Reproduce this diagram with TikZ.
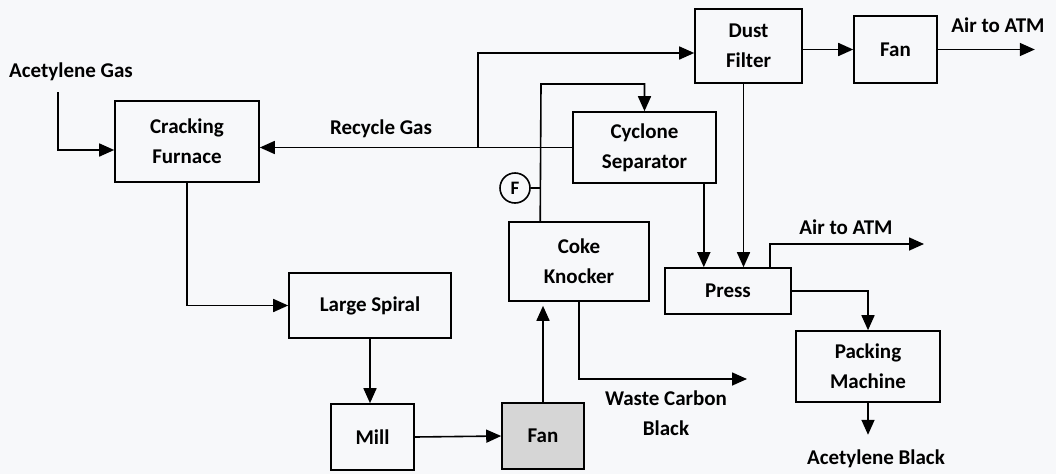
\documentclass[tikz,border=0pt]{standalone}
\usepackage{fontspec}
\setmainfont{Carlito}
\usetikzlibrary{arrows.meta,positioning}
\definecolor{paper}{RGB}{247,248,250}
\definecolor{fanfill}{RGB}{214,214,214}
\tikzset{
  unit/.style={draw,line width=1.6pt,align=center,inner sep=0pt,font=\fontsize{21}{30}\selectfont\bfseries},
  flow/.style={line width=1.6pt,-{Triangle[length=15pt,width=13pt]}},
  tag/.style={align=center,inner sep=0pt,font=\fontsize{21}{30}\selectfont\bfseries}
}
\begin{document}
\begin{tikzpicture}[x=1pt,y=-1pt]
  % --- page ---
  \fill[paper] (0,0) rectangle (1056,474);
  \useasboundingbox (0,0) rectangle (1056,474);
  % --- process units ---
  \node[unit,minimum width=144pt,minimum height=81pt] (furnace) at (187,141.5) {Cracking\\Furnace};
  \node[unit,minimum width=162pt,minimum height=65pt] (spiral) at (370,305.5) {Large Spiral};
  \node[unit,minimum width=83pt,minimum height=66pt] (mill) at (372.5,437) {Mill};
  \node[unit,fill=fanfill,minimum width=82pt,minimum height=66pt] (fanA) at (543,436) {Fan};
  \node[unit,minimum width=140pt,minimum height=79pt] (coke) at (579,261.5) {Coke\\Knocker};
  \node[unit,minimum width=143pt,minimum height=71pt] (cyclone) at (644.5,147.5) {Cyclone\\Separator};
  \node[unit,minimum width=107pt,minimum height=74pt] (dust) at (748.5,46) {Dust\\Filter};
  \node[unit,minimum width=83pt,minimum height=67pt] (fanB) at (895.5,49.5) {Fan};
  \node[unit,minimum width=126pt,minimum height=46pt] (press) at (728,291) {Press};
  \node[unit,minimum width=144pt,minimum height=71pt] (packing) at (868,366.5) {Packing\\Machine};
  \node[draw,circle,line width=1.6pt,minimum size=30pt,inner sep=0pt,font=\fontsize{19}{19}\selectfont\bfseries] (fmeter) at (515,188) {F};
  % --- stream labels ---
  \node[tag] (gaslbl) at (71,72) {Acetylene Gas};
  \node[tag] (recyclelbl) at (381,129) {Recycle Gas};
  \node[tag] (airlblA) at (998,25) {Air to ATM};
  \node[tag] (airlblB) at (846,227) {Air to ATM};
  \node[tag] (wastelbl) at (666,413) {Waste Carbon\\Black};
  \node[tag] (blacklbl) at (876,459) {Acetylene Black};
  % --- free ends and turning points ---
  \coordinate (gasin) at (58,92);
  \coordinate (split) at (478,147.5);
  \coordinate (loopbot) at ([xshift=32pt]coke.north west);
  \coordinate (loopturn) at (541,84);
  \coordinate (wasteout) at (747,379);
  \coordinate (cydrop) at ([xshift=-13pt]cyclone.south east);
  \coordinate (dustdrop) at ([xshift=-5pt]dust.south);
  \coordinate (pressvent) at ([xshift=-22pt]press.north east);
  \coordinate (airout) at (924,244);
  % --- main line ---
  \draw[flow] (gasin) |- ([yshift=-8.5pt]furnace.west);
  \draw[flow] (furnace.south) |- (spiral.west);
  \draw[flow] (spiral.south) -- (spiral.south |- mill.north);
  \draw[flow] (mill.east) -- (fanA.west);
  \draw[flow,shorten >=4pt] (fanA.north) -- (fanA.north |- coke.south);
  \draw[flow] (coke.south) |- (wasteout);
  \draw[flow] (loopbot) -- (loopturn) -| (cyclone.north);
  \draw[line width=1.6pt] (fmeter.east) -- (fmeter.east -| loopbot);
  % --- gas side ---
  \draw[flow] (cyclone.west) -- (cyclone.west -| furnace.east);
  \draw[flow] (split) |- ([yshift=-7pt]dust.west);
  \draw[flow] (dust.east |- fanB) -- (fanB.west);
  \draw[flow] (fanB.east) -- ++(97,0);
  % --- product side ---
  \draw[flow] (cydrop) -- (cydrop |- press.north);
  \draw[flow] (dustdrop) -- (dustdrop |- press.north);
  \draw[flow] (pressvent) |- (airout);
  \draw[flow] (press.east) -| (packing.north);
  \draw[flow] (packing.south) -- ++(0,32);
\end{tikzpicture}
\end{document}
